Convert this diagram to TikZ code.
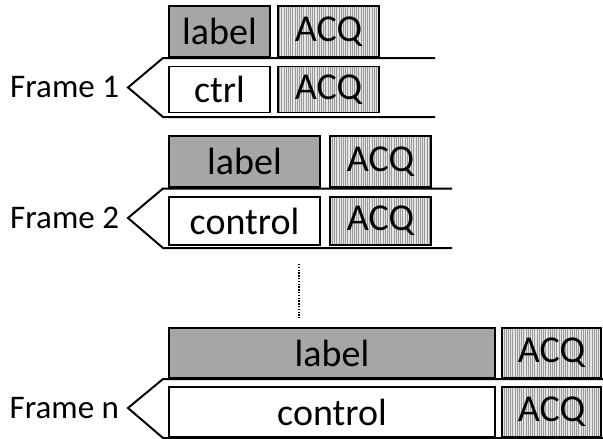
\documentclass[tikz,border=0pt]{standalone}
\usepackage{fontspec}
\setmainfont{Carlito}
\usetikzlibrary{patterns.meta}

\begin{document}
\begin{tikzpicture}[x=1pt, y=-1pt,
  every node/.style={inner sep=0pt, outer sep=0pt},
  box/.style={draw, line width=1.6pt, font=\fontsize{38}{42}\selectfont},
  lab/.style={box, fill=black!35},
  ctl/.style={box, fill=white},
  acq/.style={box, preaction={fill=black!10},
    pattern={Lines[angle=90, distance=2.2pt, line width=0.6pt]},
    pattern color=black!40},
  frm/.style={font=\fontsize{33}{37}\selectfont, anchor=east},
  bus/.style={line width=2pt, line join=miter},
  dots/.style={line width=1.6pt, dash pattern=on 1.4pt off 1.4pt},
]
\useasboundingbox (0,0) rectangle (603,439);

% Frame 1
\node (lab1) [lab, minimum width=101pt, minimum height=51pt] at (219.5,31.5) {label};
\node (acqa1) [acq, minimum width=101pt, minimum height=51pt] at (328.5,31.5) {ACQ};
\node (ctl1) [ctl, minimum width=101pt, minimum height=46pt] at (219.5,89.5) {ctrl};
\node (acqb1) [acq, minimum width=101pt, minimum height=46pt] at (328.5,89.5) {ACQ};
\coordinate (tip1) at (128,87.5);
\node (frame1) [frm] at (119,87.5) {Frame 1};
\draw[bus] (435,58) -- (163,58) -- (tip1) -- (163,117) -- (435,117);

% Frame 2
\node (lab2) [lab, minimum width=151pt, minimum height=51pt] at (244.5,161.5) {label};
\node (acqa2) [acq, minimum width=101pt, minimum height=51pt] at (380.5,161.5) {ACQ};
\node (ctl2) [ctl, minimum width=151pt, minimum height=48pt] at (244.5,221) {control};
\node (acqb2) [acq, minimum width=101pt, minimum height=48pt] at (380.5,221) {ACQ};
\coordinate (tip2) at (128,218);
\node (frame2) [frm] at (119,218) {Frame 2};
\draw[bus] (452,188.5) -- (163,188.5) -- (tip2) -- (163,248) -- (452,248);

% dots between frame 2 and frame n
\coordinate (gapa) at (299,264);
\coordinate (gapb) at (299,318);
\draw[dots] (gapa) -- (gapb);

% Frame n
\node (labn) [lab, minimum width=326pt, minimum height=50pt] at (332,353) {label};
\node (acqan) [acq, minimum width=99pt, minimum height=50pt] at (551.5,353) {ACQ};
\node (ctln) [ctl, minimum width=326pt, minimum height=50pt] at (332,412) {control};
\node (acqbn) [acq, minimum width=99pt, minimum height=50pt] at (551.5,412) {ACQ};
\coordinate (tipn) at (128,408);
\node (framen) [frm] at (119,408) {Frame n};
\draw[bus] (603,379) -- (163,379) -- (tipn) -- (163,438) -- (603,438);

\end{tikzpicture}
\end{document}
